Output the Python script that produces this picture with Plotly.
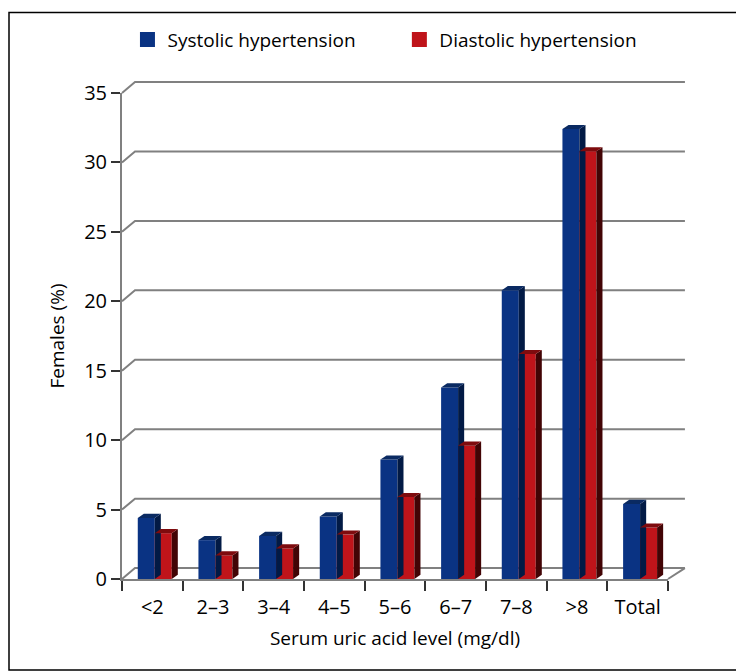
import plotly.graph_objects as go

categories = ["<2", "2–3", "3–4", "4–5", "5–6", "6–7", "7–8", ">8", "Total"]
systolic = [4.4, 2.8, 3.1, 4.5, 8.6, 13.8, 20.8, 32.4, 5.4]
diastolic = [3.3, 1.7, 2.2, 3.2, 5.9, 9.6, 16.2, 30.8, 3.7]
y_ticks = [0, 5, 10, 15, 20, 25, 30, 35]

BLUE, BLUE_SIDE, BLUE_TOP = "#0a3383", "#021a45", "#0a2a62"
RED, RED_SIDE, RED_TOP = "#bf141a", "#420405", "#7e0b0e"
GRID = "#808080"

W = 0.28      # bar width in category units
DX = 0.10     # depth offset (x, category units)
DY = 0.30     # depth offset (y, value units)

fig = go.Figure()

def add_series(vals, name, off, front, side, top, legend):
    xs = [i + off for i in range(len(vals))]
    fig.add_trace(go.Bar(x=xs, y=vals, width=W, name=name, showlegend=False,
                         marker=dict(color=front, line=dict(width=0))))
    for x, v in zip(xs, vals):
        r = x + W / 2
        l = x - W / 2
        fig.add_trace(go.Scatter(x=[r, r + DX, r + DX, r, r], y=[0, DY, v + DY, v, 0],
                                 fill="toself", fillcolor=side, mode="lines", line=dict(width=0),
                                 showlegend=False, hoverinfo="skip"))
        fig.add_trace(go.Scatter(x=[l, l + DX, r + DX, r, l], y=[v, v + DY, v + DY, v, v],
                                 fill="toself", fillcolor=top, mode="lines", line=dict(width=0),
                                 showlegend=False, hoverinfo="skip"))
    # legend entry with a square marker
    fig.add_trace(go.Scatter(x=[None], y=[None], mode="markers", name=name, legend=legend,
                             marker=dict(symbol="square", size=13, color=front,
                                         line=dict(color=front, width=2))))

add_series(systolic, "Systolic hypertension", -0.10, BLUE, BLUE_SIDE, BLUE_TOP, "legend")
add_series(diastolic, "Diastolic hypertension", 0.18, RED, RED_SIDE, RED_TOP, "legend2")

# back-wall gridlines (paper coordinates)
dxp, dyp, xend = 0.0238, 0.0225, 1.031
shapes = []
for v in y_ticks:
    yp = v / 35
    shapes.append(dict(type="path", xref="paper", yref="paper", layer="below",
                       path=f"M 0 {yp} L {dxp} {yp + dyp} L {xend} {yp + dyp}",
                       line=dict(color=GRID, width=2)))
shapes.append(dict(type="line", xref="paper", yref="paper", layer="below",
                   x0=1, y0=0, x1=xend, y1=dyp, line=dict(color=GRID, width=2)))
# outer frame around the whole figure
shapes.append(dict(type="rect", xref="paper", yref="paper",
                   x0=-113.0 / 546, x1=1 + 74.5 / 546, y0=-91.5 / 489, y1=1 + 81.0 / 489,
                   line=dict(color="black", width=1.5)))

leg_common = dict(orientation="h", y=1.11, xanchor="left", yanchor="middle",
                  font=dict(size=19), itemwidth=30, bgcolor="rgba(0,0,0,0)")

fig.update_layout(
    width=736, height=664,
    margin=dict(l=114, r=76, t=82, b=93),
    paper_bgcolor="white", plot_bgcolor="white",
    barmode="overlay",
    font=dict(family="Open Sans", size=18, color="black"),
    shapes=shapes,
    showlegend=True,
    legend=dict(x=0.01, **leg_common),
    legend2=dict(x=0.508, **leg_common),
    xaxis=dict(range=[-0.5, 8.5], tickvals=list(range(len(categories))), ticktext=categories,
               ticks="outside", ticklen=9, tickcolor="rgba(0,0,0,0)",
               showgrid=False, zeroline=False, showline=True, linecolor=GRID, linewidth=2,
               minor=dict(tickvals=[i - 0.5 for i in range(len(categories) + 1)], ticks="outside",
                          ticklen=10, tickcolor="#333333", tickwidth=2),
               title=dict(text="Serum uric acid level (mg/dl)", standoff=13, font=dict(size=19)),
               tickfont=dict(size=20)),
    yaxis=dict(range=[0, 35], tickvals=y_ticks, ticks="outside", ticklen=9, tickcolor="#333333",
               tickwidth=2, showgrid=False, zeroline=False, showline=True, linecolor=GRID, linewidth=2,
               title=dict(text="Females (%)", standoff=14, font=dict(size=19)), tickfont=dict(size=20)),
)

fig.write_html("out.html")
